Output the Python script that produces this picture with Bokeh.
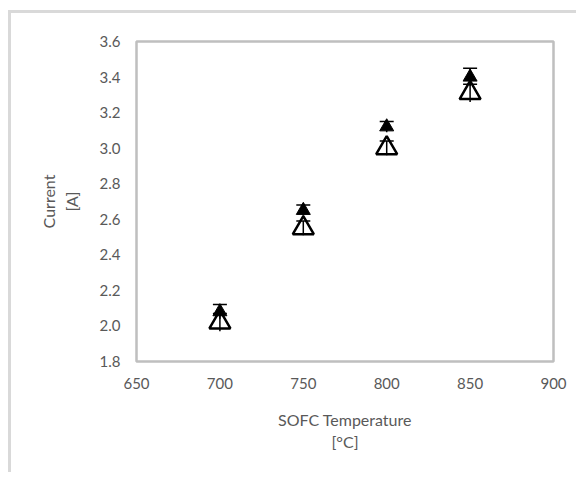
from bokeh.plotting import figure
from bokeh.models import ColumnDataSource, FixedTicker, PrintfTickFormatter, Range1d
from bokeh.embed import file_html
from bokeh.resources import INLINE

# ---- data ----
temperature = [700, 750, 800, 850]
current_filled = [2.08, 2.65, 3.12, 3.40]
err_filled = [0.04, 0.03, 0.03, 0.05]
current_open = [2.02, 2.55, 3.00, 3.31]
err_open = [0.05, 0.04, 0.04, 0.05]
x_ticks = [650, 700, 750, 800, 850, 900]
y_ticks = [1.8, 2.0, 2.2, 2.4, 2.6, 2.8, 3.0, 3.2, 3.4, 3.6]

src_f = ColumnDataSource(dict(
    x=temperature, y=current_filled,
    lo=[v - e for v, e in zip(current_filled, err_filled)],
    hi=[v + e for v, e in zip(current_filled, err_filled)],
))
src_o = ColumnDataSource(dict(
    x=temperature, y=current_open,
    lo=[v - e for v, e in zip(current_open, err_open)],
    hi=[v + e for v, e in zip(current_open, err_open)],
))

FONT = "Lato"
GREY = "#595959"

p = figure(width=568, height=462, output_backend="svg", toolbar_location=None,
           x_range=Range1d(650, 900), y_range=Range1d(1.8, 3.6),
           min_border_left=125, min_border_right=26, min_border_top=28, min_border_bottom=114)
p.styles = {"border-left": "3px solid #d9d9d9", "border-top": "3px solid #d9d9d9",
            "margin-left": "8px", "margin-top": "10px"}

p.xgrid.visible = False
p.ygrid.visible = False
p.outline_line_color = "#bfbfbf"
p.outline_line_width = 2.5

for ax in (p.xaxis[0], p.yaxis[0]):
    ax.axis_line_color = None
    ax.major_tick_line_color = None
    ax.minor_tick_line_color = None
    ax.major_tick_out = 0
    ax.major_tick_in = 0
    ax.minor_tick_out = 0
    ax.minor_tick_in = 0
    ax.major_label_text_font = FONT
    ax.major_label_text_font_size = "15px"
    ax.major_label_text_color = GREY
    ax.axis_label_text_font = FONT
    ax.axis_label_text_font_size = "16px"
    ax.axis_label_text_font_style = "normal"
    ax.axis_label_text_color = GREY
    ax.major_label_standoff = 16

p.xaxis.ticker = FixedTicker(ticks=x_ticks)
p.yaxis.ticker = FixedTicker(ticks=y_ticks)
p.yaxis.formatter = PrintfTickFormatter(format="%.1f")
p.xaxis.axis_label = "SOFC Temperature\n[°C]"
p.yaxis.axis_label = "Current\n[A]"
p.xaxis.axis_label_standoff = 18
p.yaxis.axis_label_standoff = 16

# open triangles series
p.scatter("x", "y", source=src_o, marker="triangle", size=21,
          fill_color="white", line_color="black", line_width=2.5)
p.segment(x0="x", y0="lo", x1="x", y1="hi", source=src_o, line_color="black", line_width=1.5)
p.scatter("x", "hi", source=src_o, marker="dash", size=14, line_color="black", line_width=1.5)

# filled triangles series
p.segment(x0="x", y0="lo", x1="x", y1="hi", source=src_f, line_color="black", line_width=1.5)
p.scatter("x", "hi", source=src_f, marker="dash", size=14, line_color="black", line_width=1.5)
p.scatter("x", "y", source=src_f, marker="triangle", size=14,
          fill_color="black", line_color="black", line_width=1)

open("out.html", "w").write(file_html(p, INLINE))
